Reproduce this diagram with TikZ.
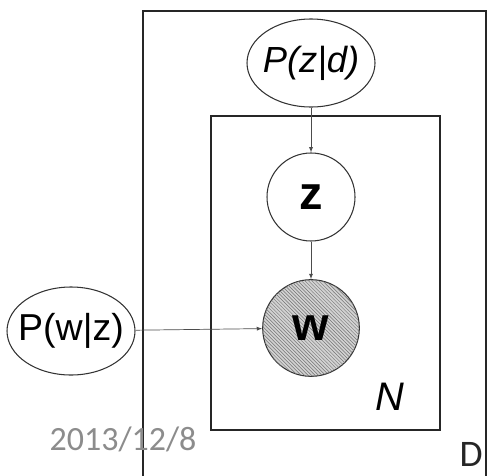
\documentclass[tikz,border=0pt]{standalone}
\usepackage{fontspec}
\setmainfont{Liberation Sans}
\newfontfamily\datefont{Carlito}
\usetikzlibrary{shapes.geometric,patterns}

\begin{document}
\begin{tikzpicture}[
        x=0.03cm, y=-0.03cm,
        every node/.style={inner sep=0pt},
        plate/.style={draw=black!85, line width=1.6pt},
        verteilung/.style={draw=black!80, ellipse, line width=0.9pt,
                           inner xsep=-8pt,
                           minimum width=3.84cm, minimum height=2.64cm,
                           font=\fontsize{31}{36}\selectfont},
        zufall/.style={draw=black!80, circle, line width=0.9pt,
                       font=\fontsize{40}{46}\selectfont\bfseries},
        beobachtet/.style={zufall, fill=gray!35,
                           postaction={pattern=north west lines,
                                       pattern color=black!55}},
        kante/.style={draw=black!70, line width=0.6pt, -latex},
        marke/.style={font=\fontsize{34}{40}\selectfont}
    ]
        \clip (0,0) rectangle (487,475);
        \useasboundingbox (0,0) rectangle (487,475);

        % plates
        \draw[plate] (143,11) rectangle (486,490);
        \draw[plate] (211,116) rectangle (440,430);
        \node[marke] (lN) at (390,397) {\itshape N};
        \node[anchor=base east, text=black!85,
              font=\datefont\fontsize{32}{37}\selectfont] (lD) at (483,466) {D};

        \node[verteilung] (pzd) at (311,63)  {\itshape P(z|d)};
        \node[zufall, minimum size=2.64cm] (z) at (311,197) {z};
        \node[beobachtet, minimum size=2.9cm] (w) at (311,328) {w};
        \node[verteilung, font=\fontsize{32}{37}\selectfont] (pwz) at (71,331) {P(w|z)};

        \draw[kante] (pzd) -- (z);
        \draw[kante] (z) -- (w);
        \draw[kante] (pwz) -- (w);

        \node[anchor=base, text=black!45, font=\datefont\fontsize{29}{34}\selectfont]
            (datum) at (123,450) {2013/12/8};
    \end{tikzpicture}
\end{document}
